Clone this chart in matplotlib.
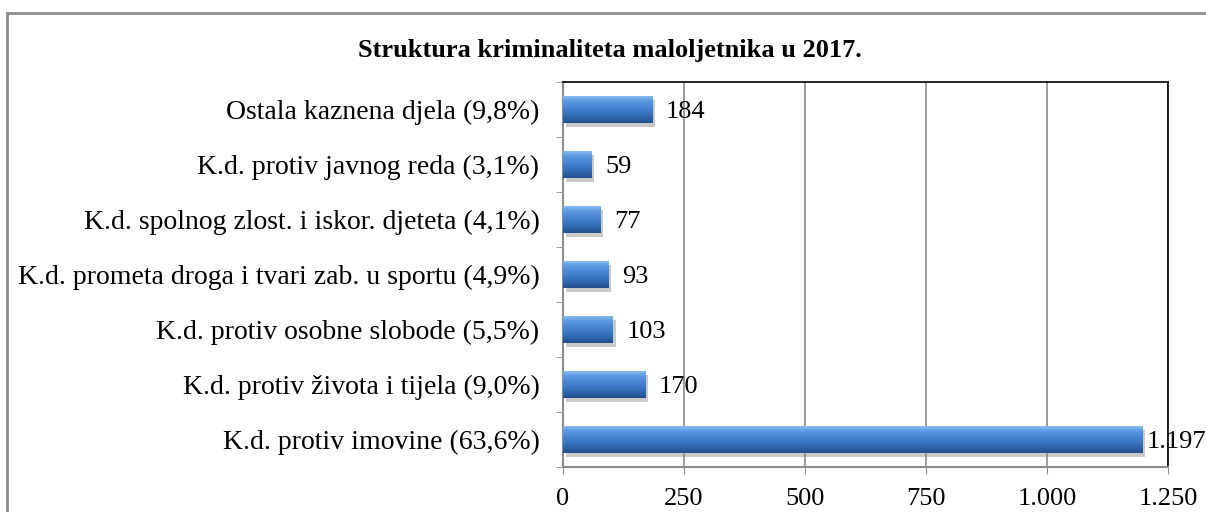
import numpy as np
import matplotlib
matplotlib.use("Agg")
import matplotlib.pyplot as plt
from matplotlib.patches import Rectangle
import matplotlib.patheffects as pe
from matplotlib.colors import LinearSegmentedColormap

categories = [
    "K.d. protiv imovine (63,6%)",
    "K.d. protiv života i tijela (9,0%)",
    "K.d. protiv osobne slobode (5,5%)",
    "K.d. prometa droga i tvari zab. u sportu (4,9%)",
    "K.d. spolnog zlost. i iskor. djeteta (4,1%)",
    "K.d. protiv javnog reda (3,1%)",
    "Ostala kaznena djela (9,8%)",
]
values = [1197, 170, 103, 93, 77, 59, 184]
value_labels = ["1.197", "170", "103", "93", "77", "59", "184"]
xticks = [0, 250, 500, 750, 1000, 1250]
xtick_labels = ["0", "250", "500", "750", "1.000", "1.250"]
title = "Struktura kriminaliteta maloljetnika u 2017."

plt.rcParams["font.family"] = ["Liberation Serif", "DejaVu Serif"]

fig = plt.figure(figsize=(12.06, 5.12), dpi=100)
ax = fig.add_axes([563 / 1206, 1 - 467 / 512, 605 / 1206, 385 / 512])

# outer chart frame (runs off right and bottom edge like the reference)
fig.patches.append(Rectangle((7 / 1206, -0.05), 1.2, 1 - 13 / 512 + 0.05,
                             transform=fig.transFigure, fill=False,
                             edgecolor="#8c8c8c", linewidth=2))

cmap = LinearSegmentedColormap.from_list(
    "bev", ["#234f8a", "#2f66ad", "#3b78c4", "#4a88d6", "#5d9ae2", "#8fc0f2"])
grad = np.linspace(0, 1, 64).reshape(-1, 1)

y = np.arange(len(categories))
h = 0.5
bars = ax.barh(y, values, height=h, color="#3b78c4", edgecolor="none", zorder=3,
               path_effects=[pe.SimplePatchShadow(offset=(2, -3), shadow_rgbFace="#8a8a8a", alpha=0.45),
                             pe.Normal()])
for yi, v in zip(y, values):
    im = ax.imshow(grad, cmap=cmap, aspect="auto", origin="lower",
                   extent=[0, v, yi - h / 2, yi + h / 2], zorder=4)
    im.set_clip_path(Rectangle((0, yi - h / 2), v, h, transform=ax.transData))

# labels outside bar end; the long bar's label is squeezed against the edge
for yi, v, lab in zip(y, values, value_labels):
    off = 10 if v < 1100 else 3
    ax.annotate(lab, (v, yi), xytext=(off, 0), textcoords="offset points",
                va="center_baseline", ha="left", fontsize=19, zorder=5,
                annotation_clip=False)

ax.set_xlim(0, 1250)
ax.set_ylim(-0.5, len(categories) - 0.5)
ax.set_xticks(xticks)
ax.set_xticklabels(xtick_labels, fontsize=19)
ax.set_yticks(y)
ax.set_yticklabels(categories, fontsize=20)
ax.set_yticks(np.arange(-0.5, len(categories), 1), minor=True)
ax.tick_params(axis="y", which="major", length=0, pad=17)
ax.tick_params(axis="y", which="minor", length=5, color="#8c8c8c", direction="out")
ax.tick_params(axis="x", length=5, color="#8c8c8c", pad=10)

ax.grid(axis="x", color="#8c8c8c", linewidth=1.2, zorder=1)
ax.set_axisbelow(True)
for s in ["top", "right"]:
    ax.spines[s].set_color("black")
    ax.spines[s].set_linewidth(1.2)
for s in ["left", "bottom"]:
    ax.spines[s].set_color("#8c8c8c")
    ax.spines[s].set_linewidth(1.5)

fig.text(610 / 1206, 1 - 50 / 512, title, ha="center", va="center",
         fontsize=19, fontweight="bold")

fig.savefig("out.png", dpi=100)
